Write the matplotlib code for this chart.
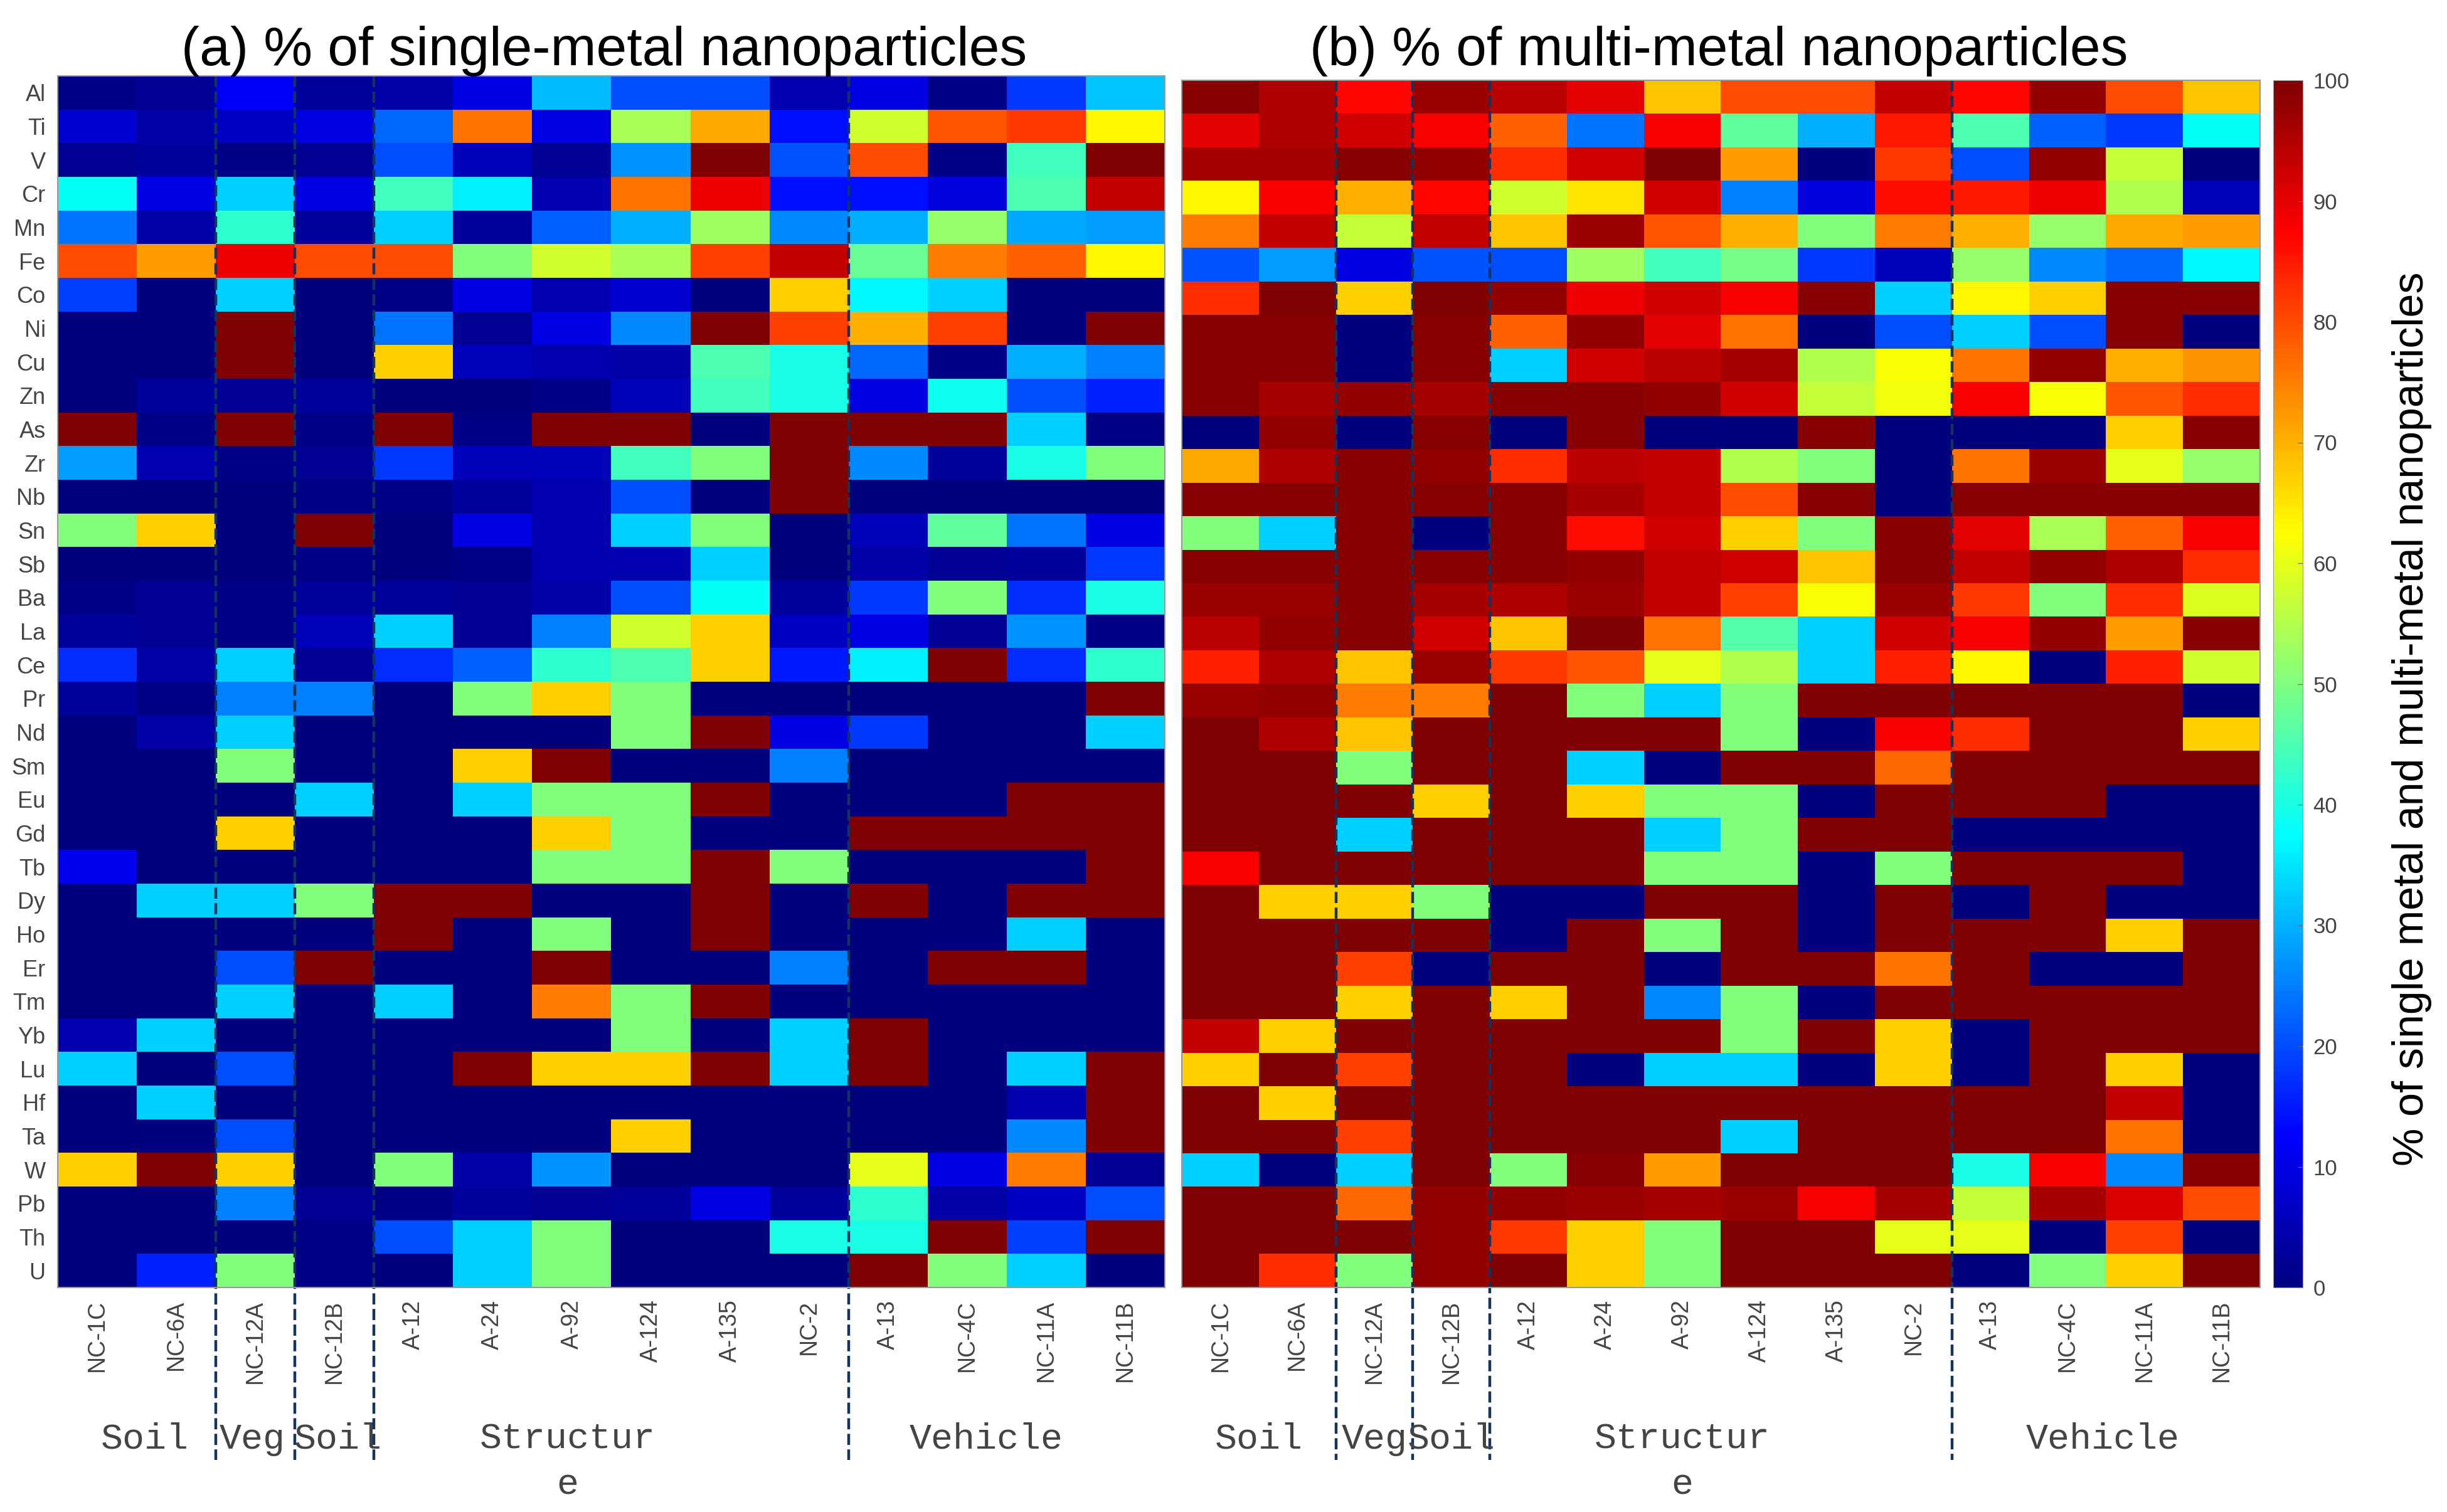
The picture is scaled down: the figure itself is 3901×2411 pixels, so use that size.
#!/usr/bin/env python3
# -*- coding: utf-8 -*-
import numpy as np
import matplotlib
matplotlib.use("Agg")
import matplotlib.pyplot as plt
from matplotlib.colors import LinearSegmentedColormap

W, H = 3901, 2411

metals = ["Al", "Ti", "V", "Cr", "Mn", "Fe", "Co", "Ni", "Cu", "Zn", "As", "Zr",
          "Nb", "Sn", "Sb", "Ba", "La", "Ce", "Pr", "Nd", "Sm", "Eu", "Gd", "Tb",
          "Dy", "Ho", "Er", "Tm", "Yb", "Lu", "Hf", "Ta", "W", "Pb", "Th", "U"]
samples = ["NC-1C", "NC-6A", "NC-12A", "NC-12B", "A-12", "A-24", "A-92", "A-124",
           "A-135", "NC-2", "A-13", "NC-4C", "NC-11A", "NC-11B"]

# (a) single metal, one row per metal
single = [
    [1, 2, 12, 3, 4, 10, 31, 20, 20, 5, 10, 1, 18, 32],
    [8, 4, 7, 10, 23, 76, 10, 54, 71, 14, 58, 79, 82, 63],
    [2, 3, 1, 2, 20, 6, 2, 27, 100, 21, 80, 1, 44, 100],
    [38, 10, 33, 10, 44, 36, 5, 76, 89, 14, 14, 9, 45, 93],
    [24, 4, 42, 3, 33, 3, 22, 30, 53, 26, 30, 52, 29, 28],
    [80, 72, 89, 80, 80, 50, 58, 54, 81, 93, 48, 75, 78, 63],
    [19, 0, 33, 0, 1, 10, 5, 8, 0, 67, 37, 33, 0, 0],
    [0, 0, 100, 0, 24, 2, 10, 26, 100, 81, 70, 81, 0, 100],
    [0, 0, 100, 0, 67, 6, 5, 4, 45, 40, 23, 1, 30, 25],
    [0, 3, 2, 3, 0, 0, 1, 6, 44, 40, 10, 39, 20, 16],
    [100, 1, 100, 1, 100, 1, 100, 100, 0, 100, 100, 100, 33, 1],
    [28, 5, 1, 2, 18, 6, 6, 44, 50, 100, 26, 3, 40, 50],
    [0, 0, 0, 1, 1, 3, 5, 20, 0, 100, 0, 0, 0, 0],
    [50, 67, 0, 100, 0, 10, 5, 33, 50, 0, 6, 47, 24, 10],
    [0, 0, 0, 1, 0, 1, 5, 5, 33, 0, 4, 2, 3, 18],
    [1, 2, 1, 3, 3, 2, 4, 20, 38, 3, 18, 50, 17, 40],
    [3, 2, 1, 6, 33, 2, 25, 58, 67, 7, 10, 2, 27, 1],
    [17, 4, 33, 2, 17, 22, 42, 45, 67, 15, 36, 100, 17, 42],
    [3, 1, 25, 25, 0, 50, 67, 50, 0, 0, 0, 0, 0, 100],
    [0, 4, 33, 0, 0, 0, 0, 50, 100, 10, 18, 0, 0, 33],
    [0, 0, 50, 0, 0, 67, 100, 0, 0, 25, 0, 0, 0, 0],
    [0, 0, 0, 33, 0, 33, 50, 50, 100, 0, 0, 0, 100, 100],
    [0, 0, 67, 0, 0, 0, 67, 50, 0, 0, 100, 100, 100, 100],
    [11, 0, 0, 0, 0, 0, 50, 50, 100, 50, 0, 0, 0, 100],
    [0, 33, 33, 50, 100, 100, 0, 0, 100, 0, 100, 0, 100, 100],
    [0, 0, 0, 0, 100, 0, 50, 0, 100, 0, 0, 0, 33, 0],
    [0, 0, 20, 100, 0, 0, 100, 0, 0, 25, 0, 100, 100, 0],
    [0, 0, 33, 0, 33, 0, 75, 50, 100, 0, 0, 0, 0, 0],
    [5, 33, 0, 0, 0, 0, 0, 50, 0, 33, 100, 0, 0, 0],
    [33, 0, 20, 0, 0, 100, 67, 67, 100, 33, 100, 0, 33, 100],
    [0, 33, 0, 0, 0, 0, 0, 0, 0, 0, 0, 0, 5, 100],
    [0, 0, 20, 0, 0, 0, 0, 67, 0, 0, 0, 0, 26, 100],
    [67, 100, 67, 0, 50, 4, 27, 0, 0, 0, 60, 10, 75, 2],
    [0, 0, 25, 2, 1, 3, 2, 3, 10, 3, 42, 4, 7, 20],
    [0, 0, 0, 1, 20, 33, 50, 0, 0, 40, 40, 100, 19, 100],
    [0, 16, 50, 1, 0, 33, 50, 0, 0, 0, 100, 50, 33, 0],
]

# (b) multi metal
multi = [
    [99, 95, 87, 97, 94, 90, 68, 80, 80, 93, 87, 98, 80, 68],
    [90, 95, 92, 88, 78, 24, 88, 47, 30, 85, 45, 22, 18, 38],
    [96, 96, 99, 98, 83, 92, 100, 72, 0, 82, 20, 98, 57, 0],
    [63, 88, 70, 87, 58, 65, 92, 25, 9, 86, 85, 89, 55, 6],
    [75, 93, 57, 93, 68, 97, 79, 70, 50, 75, 70, 52, 71, 72],
    [21, 28, 10, 21, 20, 53, 44, 49, 18, 6, 52, 26, 23, 37],
    [83, 100, 67, 100, 98, 89, 92, 88, 99, 33, 63, 67, 99, 99],
    [99, 99, 0, 99, 78, 98, 90, 76, 0, 20, 33, 20, 99, 0],
    [99, 99, 0, 99, 33, 92, 94, 96, 55, 62, 76, 98, 70, 73],
    [99, 96, 98, 96, 99, 99, 98, 92, 57, 61, 88, 62, 79, 83],
    [0, 98, 0, 99, 0, 99, 0, 0, 99, 0, 0, 0, 67, 99],
    [71, 95, 99, 98, 83, 94, 93, 55, 50, 0, 76, 97, 60, 52],
    [99, 99, 99, 99, 99, 96, 93, 80, 99, 0, 99, 99, 99, 99],
    [50, 33, 99, 0, 99, 86, 92, 67, 50, 99, 90, 54, 78, 88],
    [99, 99, 99, 99, 99, 98, 93, 92, 68, 99, 93, 98, 95, 83],
    [97, 97, 99, 96, 95, 97, 93, 81, 62, 97, 82, 50, 83, 59],
    [94, 98, 99, 92, 68, 100, 76, 46, 33, 92, 88, 98, 72, 99],
    [84, 95, 68, 97, 82, 79, 60, 55, 33, 84, 63, 0, 84, 58],
    [97, 98, 75, 75, 100, 50, 33, 50, 100, 100, 100, 100, 100, 0],
    [100, 95, 68, 100, 100, 100, 100, 50, 0, 88, 83, 100, 100, 67],
    [100, 100, 50, 100, 100, 33, 0, 100, 100, 77, 100, 100, 100, 100],
    [100, 100, 100, 67, 100, 67, 50, 50, 0, 100, 100, 100, 0, 0],
    [100, 100, 33, 100, 100, 100, 33, 50, 100, 100, 0, 0, 0, 0],
    [88, 100, 100, 100, 100, 100, 50, 50, 0, 50, 100, 100, 100, 0],
    [100, 67, 67, 50, 0, 0, 100, 100, 0, 100, 0, 100, 0, 0],
    [100, 100, 100, 100, 0, 100, 50, 100, 0, 100, 100, 100, 67, 100],
    [100, 100, 81, 0, 100, 100, 0, 100, 100, 76, 100, 0, 0, 100],
    [100, 100, 67, 100, 67, 100, 26, 50, 0, 100, 100, 100, 100, 100],
    [93, 67, 100, 100, 100, 100, 100, 50, 100, 67, 0, 100, 100, 100],
    [67, 100, 81, 100, 100, 0, 33, 33, 0, 67, 0, 100, 67, 0],
    [100, 67, 100, 100, 100, 100, 100, 100, 100, 100, 100, 100, 93, 0],
    [100, 100, 81, 100, 100, 100, 100, 33, 100, 100, 100, 100, 76, 0],
    [33, 0, 33, 100, 50, 99, 72, 100, 100, 100, 40, 88, 26, 99],
    [100, 100, 77, 98, 98, 97, 96, 97, 88, 96, 57, 96, 91, 80],
    [100, 100, 100, 98, 82, 67, 50, 100, 100, 60, 60, 0, 81, 0],
    [100, 83, 50, 98, 100, 67, 50, 100, 100, 100, 0, 50, 67, 100],
]

cbar_ticks = list(range(0, 101, 10))
group_names = ["Soil", "Veg", "Soil", "Structur\ne", "Vehicle"]
group_edges = [1.5, 2.5, 3.5, 9.5]

# matlab flavour of jet, yellow sits at 62.5 and red at 87.5
matlab_jet = LinearSegmentedColormap.from_list("matlab_jet", [
    (0.0, (0, 0, 0.5)),
    (0.125, (0, 0, 1)),
    (0.375, (0, 1, 1)),
    (0.625, (1, 1, 0)),
    (0.875, (1, 0, 0)),
    (1.0, (0.5, 0, 0)),
], N=256)


def px_axes(fig, x0, y0, x1, y1):
    # axes from pixel box, y measured from the top of the image
    return fig.add_axes([x0 / W, 1 - y1 / H, (x1 - x0) / W, (y1 - y0) / H])


def draw_panel(fig, box, data, title, title_x, centers, show_metals=True):
    ax = px_axes(fig, *box)
    im = ax.imshow(data, cmap=matlab_jet, vmin=0, vmax=100, aspect="auto", interpolation="nearest")

    ax.set_xticks(np.arange(len(samples)))
    ax.set_xticklabels(samples, rotation=90, fontsize=27, color="#444444", family="Liberation Sans")
    if show_metals:
        ax.set_yticks(np.arange(len(metals)))
        ax.set_yticklabels(metals, fontsize=26, color="#444444", family="Liberation Sans")
    else:
        ax.set_yticks([])
    ax.tick_params(length=0, pad=14)

    for spine in ax.spines.values():
        spine.set_color("#999999")
        spine.set_linewidth(1.5)

    # dashed lines between the source groups
    trans = ax.get_xaxis_transform()
    span = box[3] - box[1]
    for edge in group_edges:
        ax.plot([edge, edge], [1.0, -(2328 - box[3]) / span], transform=trans, clip_on=False,
                color="#12335c", lw=3.2, ls=(0, (4, 1.6)))

    # wrapped label hangs from the top so its first line stays level with the others
    top_y = -(2268 - box[3]) / span
    for name, center in zip(group_names, centers):
        ax.text(center, top_y, name, transform=trans, ha="center", va="top",
                fontsize=42, family="Liberation Mono", color="#444444", linespacing=1.45)

    fig.text(title_x / W, 1 - 82 / H, title, ha="center", va="center",
             fontsize=63, family="Liberation Sans", color="black")
    return im


fig = plt.figure(figsize=(W / 100, H / 100), dpi=100, facecolor="white")

draw_panel(fig, (92, 121, 1857, 2053), np.array(single),
           "(a) % of single-metal nanoparticles", 963, [0.6, 1.96, 3.04, 5.95, 11.24])
im = draw_panel(fig, (1884, 128, 3603, 2053), np.array(multi),
                "(b) % of multi-metal nanoparticles", 2740, [0.5, 2.0, 3.0, 6.0, 11.46],
                show_metals=False)

cax = px_axes(fig, 3624, 128, 3671, 2053)
cbar = fig.colorbar(im, cax=cax, ticks=cbar_ticks)
cbar.ax.tick_params(labelsize=25, labelcolor="#444444", length=6, direction="in",
                    color="#666666", pad=12)
for lab in cbar.ax.get_yticklabels():
    lab.set_family("Liberation Sans")
cbar.outline.set_edgecolor("#999999")

fig.text(3845 / W, 1 - 1146 / H, "% of single metal and multi-metal nanoparticles",
         rotation=90, ha="center", va="center", fontsize=49,
         family="Liberation Sans", color="black")

fig.savefig("out.png", dpi=100)
